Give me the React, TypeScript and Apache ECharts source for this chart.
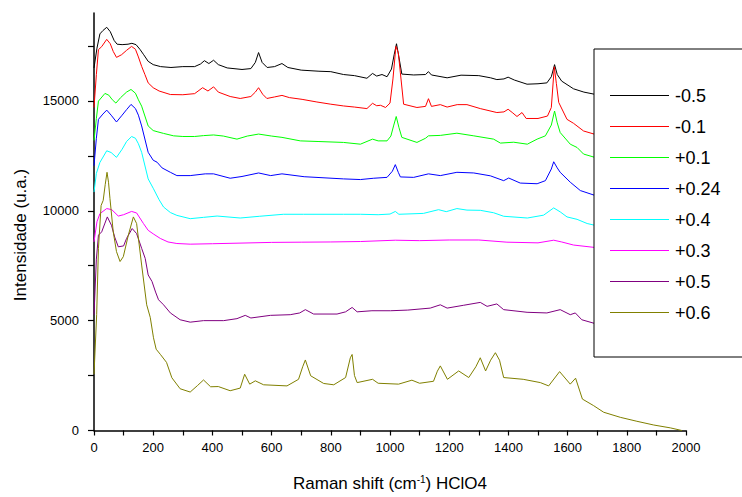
import React, { useEffect, useRef } from 'react';
import * as echarts from 'echarts';

const FONT = '"Liberation Sans", Arial, Helvetica, sans-serif';

const seriesNames = ['-0.5', '-0.1', '+0.1', '+0.24', '+0.4', '+0.3', '+0.5', '+0.6'];
const seriesColors = ['#000000', '#ff0000', '#00ff00', '#0000ff', '#00ffff', '#ff00ff', '#800080', '#808000'];

const xTickLabels = [0, 200, 400, 600, 800, 1000, 1200, 1400, 1600, 1800, 2000];
const yTickLabels = [0, 5000, 10000, 15000];
const yTicks = [0, 2500, 5000, 7500, 10000, 12500, 15000, 17500];

const sMinus05 = [
  [0, 16500], [10, 17400], [20, 18050], [30, 18200], [43, 18350], [55, 18150], [68, 17750], [78, 17580],
  [95, 17560], [115, 17580], [128, 17620], [142, 17560], [155, 17350], [168, 17100], [183, 16800], [200, 16650],
  [225, 16560], [260, 16520], [300, 16560], [340, 16560], [360, 16680], [373, 16830], [388, 16700], [404, 16850],
  [420, 16650], [450, 16500], [500, 16430], [530, 16470], [545, 16750], [556, 17200], [568, 16750], [585, 16520],
  [610, 16560], [635, 16700], [655, 16520], [700, 16400], [760, 16350], [800, 16330], [843, 16200], [880, 16150],
  [922, 16030], [941, 16250], [955, 16130], [973, 16200], [990, 16100], [1005, 16450], [1014, 17100], [1022, 17600],
  [1030, 17000], [1040, 16220], [1080, 16180], [1120, 16200], [1130, 16330], [1140, 16180], [1193, 16050],
  [1240, 16170], [1300, 16150], [1340, 16050], [1361, 15970], [1385, 16000], [1399, 16080], [1420, 15950],
  [1463, 15760], [1500, 15780], [1530, 15820], [1545, 16100], [1556, 16650], [1565, 16200], [1580, 15900],
  [1620, 15550], [1655, 15400], [1692, 15300],
];

const sMinus01 = [
  [0, 14700], [8, 16200], [15, 17330], [26, 17470], [43, 17800], [55, 17600], [65, 17250], [76, 16980],
  [93, 17100], [110, 17300], [127, 17480], [140, 17350], [150, 17000], [161, 16570], [172, 16200], [183, 15820],
  [200, 15600], [220, 15450], [258, 15290], [300, 15280], [340, 15330], [367, 15600], [385, 15450], [404, 15640],
  [420, 15400], [460, 15200], [494, 15110], [530, 15200], [545, 15400], [556, 15600], [570, 15300], [584, 15110],
  [610, 15180], [635, 15250], [660, 15150], [703, 15070], [753, 14950], [800, 14850], [843, 14770], [880, 14720],
  [922, 14650], [941, 14890], [955, 14780], [968, 14800], [985, 14700], [1000, 14900], [1010, 16000],
  [1020, 17480], [1028, 17200], [1035, 16280], [1046, 14850], [1091, 14700], [1120, 14750], [1130, 15100],
  [1140, 14750], [1170, 14830], [1193, 14720], [1227, 14830], [1260, 14830], [1305, 14650], [1361, 14470],
  [1385, 14500], [1399, 14620], [1415, 14450], [1429, 14290], [1446, 14470], [1460, 14200], [1500, 14200],
  [1532, 14310], [1545, 14700], [1555, 16550], [1562, 15800], [1570, 14930], [1598, 14160], [1620, 13980],
  [1654, 13630], [1692, 13480],
];

const sPlus01 = [
  [0, 13200], [8, 14200], [15, 14990], [37, 15340], [50, 15260], [62, 15050], [74, 14900], [90, 15150],
  [110, 15400], [125, 15520], [140, 15350], [150, 15050], [161, 14760], [183, 13860], [200, 13650], [213, 13600],
  [235, 13520], [269, 13410], [300, 13380], [340, 13380], [370, 13420], [404, 13450], [437, 13400], [483, 13260],
  [518, 13400], [556, 13490], [600, 13400], [635, 13340], [697, 13180], [760, 13150], [843, 13110], [900, 13030],
  [941, 13260], [960, 13180], [990, 13180], [1003, 13400], [1012, 13860], [1021, 14290], [1030, 13800],
  [1040, 13340], [1091, 13110], [1120, 13300], [1130, 13410], [1170, 13430], [1226, 13530], [1283, 13410],
  [1350, 13260], [1373, 13080], [1418, 13120], [1464, 13030], [1497, 13260], [1525, 13410], [1545, 13900],
  [1556, 14540], [1565, 14000], [1575, 13560], [1609, 13030], [1632, 12880], [1654, 12580], [1692, 12430],
];

const sPlus024 = [
  [0, 12050], [8, 13300], [15, 14160], [30, 14400], [43, 14580], [58, 14350], [76, 14040], [95, 14350],
  [110, 14600], [125, 14840], [140, 14650], [150, 14350], [161, 13860], [183, 12660], [200, 12300], [213, 12210],
  [230, 11950], [258, 11750], [280, 11600], [325, 11600], [376, 11680], [404, 11680], [460, 11480], [500, 11560],
  [556, 11720], [597, 11600], [635, 11680], [710, 11550], [843, 11450], [900, 11420], [945, 11480], [990, 11520],
  [1008, 11800], [1018, 12100], [1028, 11750], [1035, 11540], [1080, 11520], [1130, 11680], [1170, 11600],
  [1226, 11750], [1283, 11720], [1339, 11590], [1384, 11370], [1401, 11490], [1440, 11260], [1497, 11230],
  [1525, 11370], [1545, 11900], [1553, 12230], [1565, 11950], [1575, 11750], [1609, 11300], [1643, 10920],
  [1692, 10700],
];

const sPlus04 = [
  [0, 10850], [8, 11700], [20, 12200], [43, 12730], [58, 12650], [76, 12430], [95, 12800], [110, 13150],
  [127, 13380], [140, 13300], [150, 13050], [161, 12660], [183, 11450], [201, 11000], [220, 10500], [235, 10170],
  [258, 9920], [280, 9790], [325, 9640], [370, 9700], [416, 9760], [494, 9670], [560, 9750], [640, 9840],
  [708, 9840], [843, 9840], [900, 9840], [960, 9820], [1000, 9850], [1018, 9970], [1030, 9840], [1113, 9880],
  [1164, 10050], [1190, 9960], [1226, 10100], [1260, 10030], [1305, 10020], [1350, 9910], [1384, 9750],
  [1464, 9670], [1519, 9800], [1553, 10130], [1575, 9950], [1598, 9720], [1632, 9610], [1666, 9420], [1692, 9340],
];

const sPlus03 = [
  [0, 8590], [10, 9500], [20, 9870], [43, 10100], [60, 10050], [82, 9760], [100, 9820], [127, 9970],
  [144, 9900], [167, 9420], [183, 9110], [200, 8950], [224, 8740], [250, 8580], [280, 8510], [325, 8480],
  [400, 8500], [500, 8530], [600, 8560], [700, 8570], [800, 8580], [900, 8600], [1018, 8660], [1100, 8640],
  [1200, 8670], [1300, 8670], [1395, 8570], [1500, 8540], [1553, 8660], [1580, 8580], [1620, 8440], [1692, 8330],
];

const sPlus05 = [
  [0, 5270], [8, 7800], [15, 8890], [26, 9040], [36, 9400], [45, 9720], [59, 9340], [70, 8800], [82, 8360],
  [100, 8400], [110, 8740], [129, 9190], [144, 8960], [161, 8290], [173, 7830], [183, 7080], [196, 6780],
  [208, 6300], [218, 5950], [235, 5720], [258, 5350], [291, 5040], [325, 4930], [370, 5000], [438, 5000],
  [483, 5090], [511, 5240], [530, 5120], [596, 5240], [663, 5270], [695, 5350], [714, 5500], [742, 5300],
  [821, 5300], [850, 5400], [872, 5600], [889, 5400], [939, 5450], [1002, 5450], [1060, 5480], [1136, 5570],
  [1170, 5720], [1193, 5570], [1249, 5700], [1305, 5830], [1328, 5650], [1361, 5760], [1384, 5500],
  [1463, 5380], [1530, 5350], [1575, 5500], [1609, 5270], [1626, 5350], [1648, 5040], [1692, 4870],
];

const sPlus06 = [
  [0, 2560], [9, 5270], [15, 8290], [24, 10240], [31, 10470], [38, 11200], [44, 11750], [49, 11300],
  [54, 10550], [65, 9040], [76, 8140], [88, 7690], [99, 7910], [116, 8890], [133, 9720], [144, 9420],
  [161, 7530], [178, 5720], [190, 5150], [201, 4220], [210, 3700], [225, 3450], [245, 3100], [263, 2400],
  [291, 1900], [325, 1750], [350, 2050], [370, 2300], [394, 1990], [420, 2000], [460, 1810], [494, 1930],
  [509, 2560], [526, 2110], [545, 2260], [573, 2080], [652, 2030], [691, 2330], [705, 2900], [714, 3210],
  [732, 2490], [776, 2140], [810, 2080], [850, 2410], [866, 3310], [872, 3460], [880, 2500], [889, 2180],
  [941, 2330], [960, 2150], [1029, 2110], [1074, 2290], [1100, 2150], [1147, 2240], [1160, 2700], [1170, 2940],
  [1194, 2330], [1232, 2710], [1266, 2410], [1290, 2900], [1305, 3310], [1323, 2710], [1340, 3200],
  [1356, 3540], [1370, 3200], [1384, 2410], [1450, 2330], [1508, 2180], [1536, 2030], [1573, 2680],
  [1609, 2110], [1627, 2380], [1650, 1430], [1688, 1130], [1722, 830], [1778, 600], [1834, 420], [1891, 250],
  [1947, 120], [1986, 0],
];

const seriesData = [sMinus05, sMinus01, sPlus01, sPlus024, sPlus04, sPlus03, sPlus05, sPlus06];

export default function App() {
  const ref = useRef<HTMLDivElement>(null);
  useEffect(() => {
    if (!ref.current) return;
    const chart = echarts.init(ref.current, null, { renderer: 'svg' });
    chart.setOption({
      animation: false,
      backgroundColor: '#ffffff',
      grid: { left: 94, right: 56, top: 13, bottom: 64, containLabel: false },
      xAxis: {
        type: 'value',
        min: 0,
        max: 2000,
        interval: 100,
        name: '{a|Raman shift (cm}{s|-1}{a|) HClO4}',
        nameLocation: 'middle',
        nameGap: 44,
        nameTextStyle: {
          rich: {
            a: { fontSize: 17, fontFamily: FONT, color: '#000' },
            s: { fontSize: 10, fontFamily: FONT, color: '#000', verticalAlign: 'top', padding: [0, 0, 8, 0] },
          },
        },
        splitLine: { show: false },
        axisLine: { lineStyle: { color: '#000', width: 1.5 } },
        axisTick: { length: 5, lineStyle: { color: '#000', width: 1.2 } },
        axisLabel: {
          margin: 10,
          fontSize: 13,
          fontFamily: FONT,
          color: '#000',
          formatter: (v: number) => (xTickLabels.includes(v) ? String(v) : ''),
        },
      },
      yAxis: {
        type: 'value',
        min: 0,
        max: 19000,
        splitLine: { show: false },
        axisLine: { show: true, lineStyle: { color: '#000', width: 1.5 } },
        axisTick: { show: true, length: 6, customValues: yTicks, lineStyle: { color: '#000', width: 1.2 } },
        axisLabel: {
          margin: 15,
          fontSize: 13,
          fontFamily: FONT,
          color: '#000',
          customValues: yTickLabels,
          formatter: (v: number) => String(v),
        },
      },
      graphic: [
        {
          type: 'text',
          x: 20,
          y: 235,
          rotation: Math.PI / 2,
          style: {
            text: 'Intensidade (u.a.)',
            fontSize: 17,
            fontFamily: FONT,
            fill: '#000',
            align: 'center',
            verticalAlign: 'middle',
          },
        },
      ],
      legend: {
        orient: 'vertical',
        left: 594,
        top: 49,
        data: seriesNames.map((name) => ({ name, icon: 'rect' })),
        itemGap: 0,
        itemWidth: 59,
        itemHeight: 1.2,
        padding: [31, 120, 29, 16],
        backgroundColor: '#ffffff',
        borderColor: '#000000',
        borderWidth: 1,
        selectedMode: false,
        textStyle: { fontSize: 18, lineHeight: 31, fontFamily: FONT, color: '#000', padding: [0, 0, 0, 1] },
      },
      series: seriesNames.map((name, i) => ({
        name,
        type: 'line',
        data: seriesData[i],
        symbol: 'none',
        showSymbol: false,
        smooth: false,
        color: seriesColors[i],
        itemStyle: { color: seriesColors[i] },
        lineStyle: { width: 1, color: seriesColors[i] },
      })),
    });
    return () => chart.dispose();
  }, []);
  return (
    <div
      ref={ref}
      style={{ position: 'absolute', left: 0, top: 0, width: 742, height: 497, background: '#fff' }}
    />
  );
}
